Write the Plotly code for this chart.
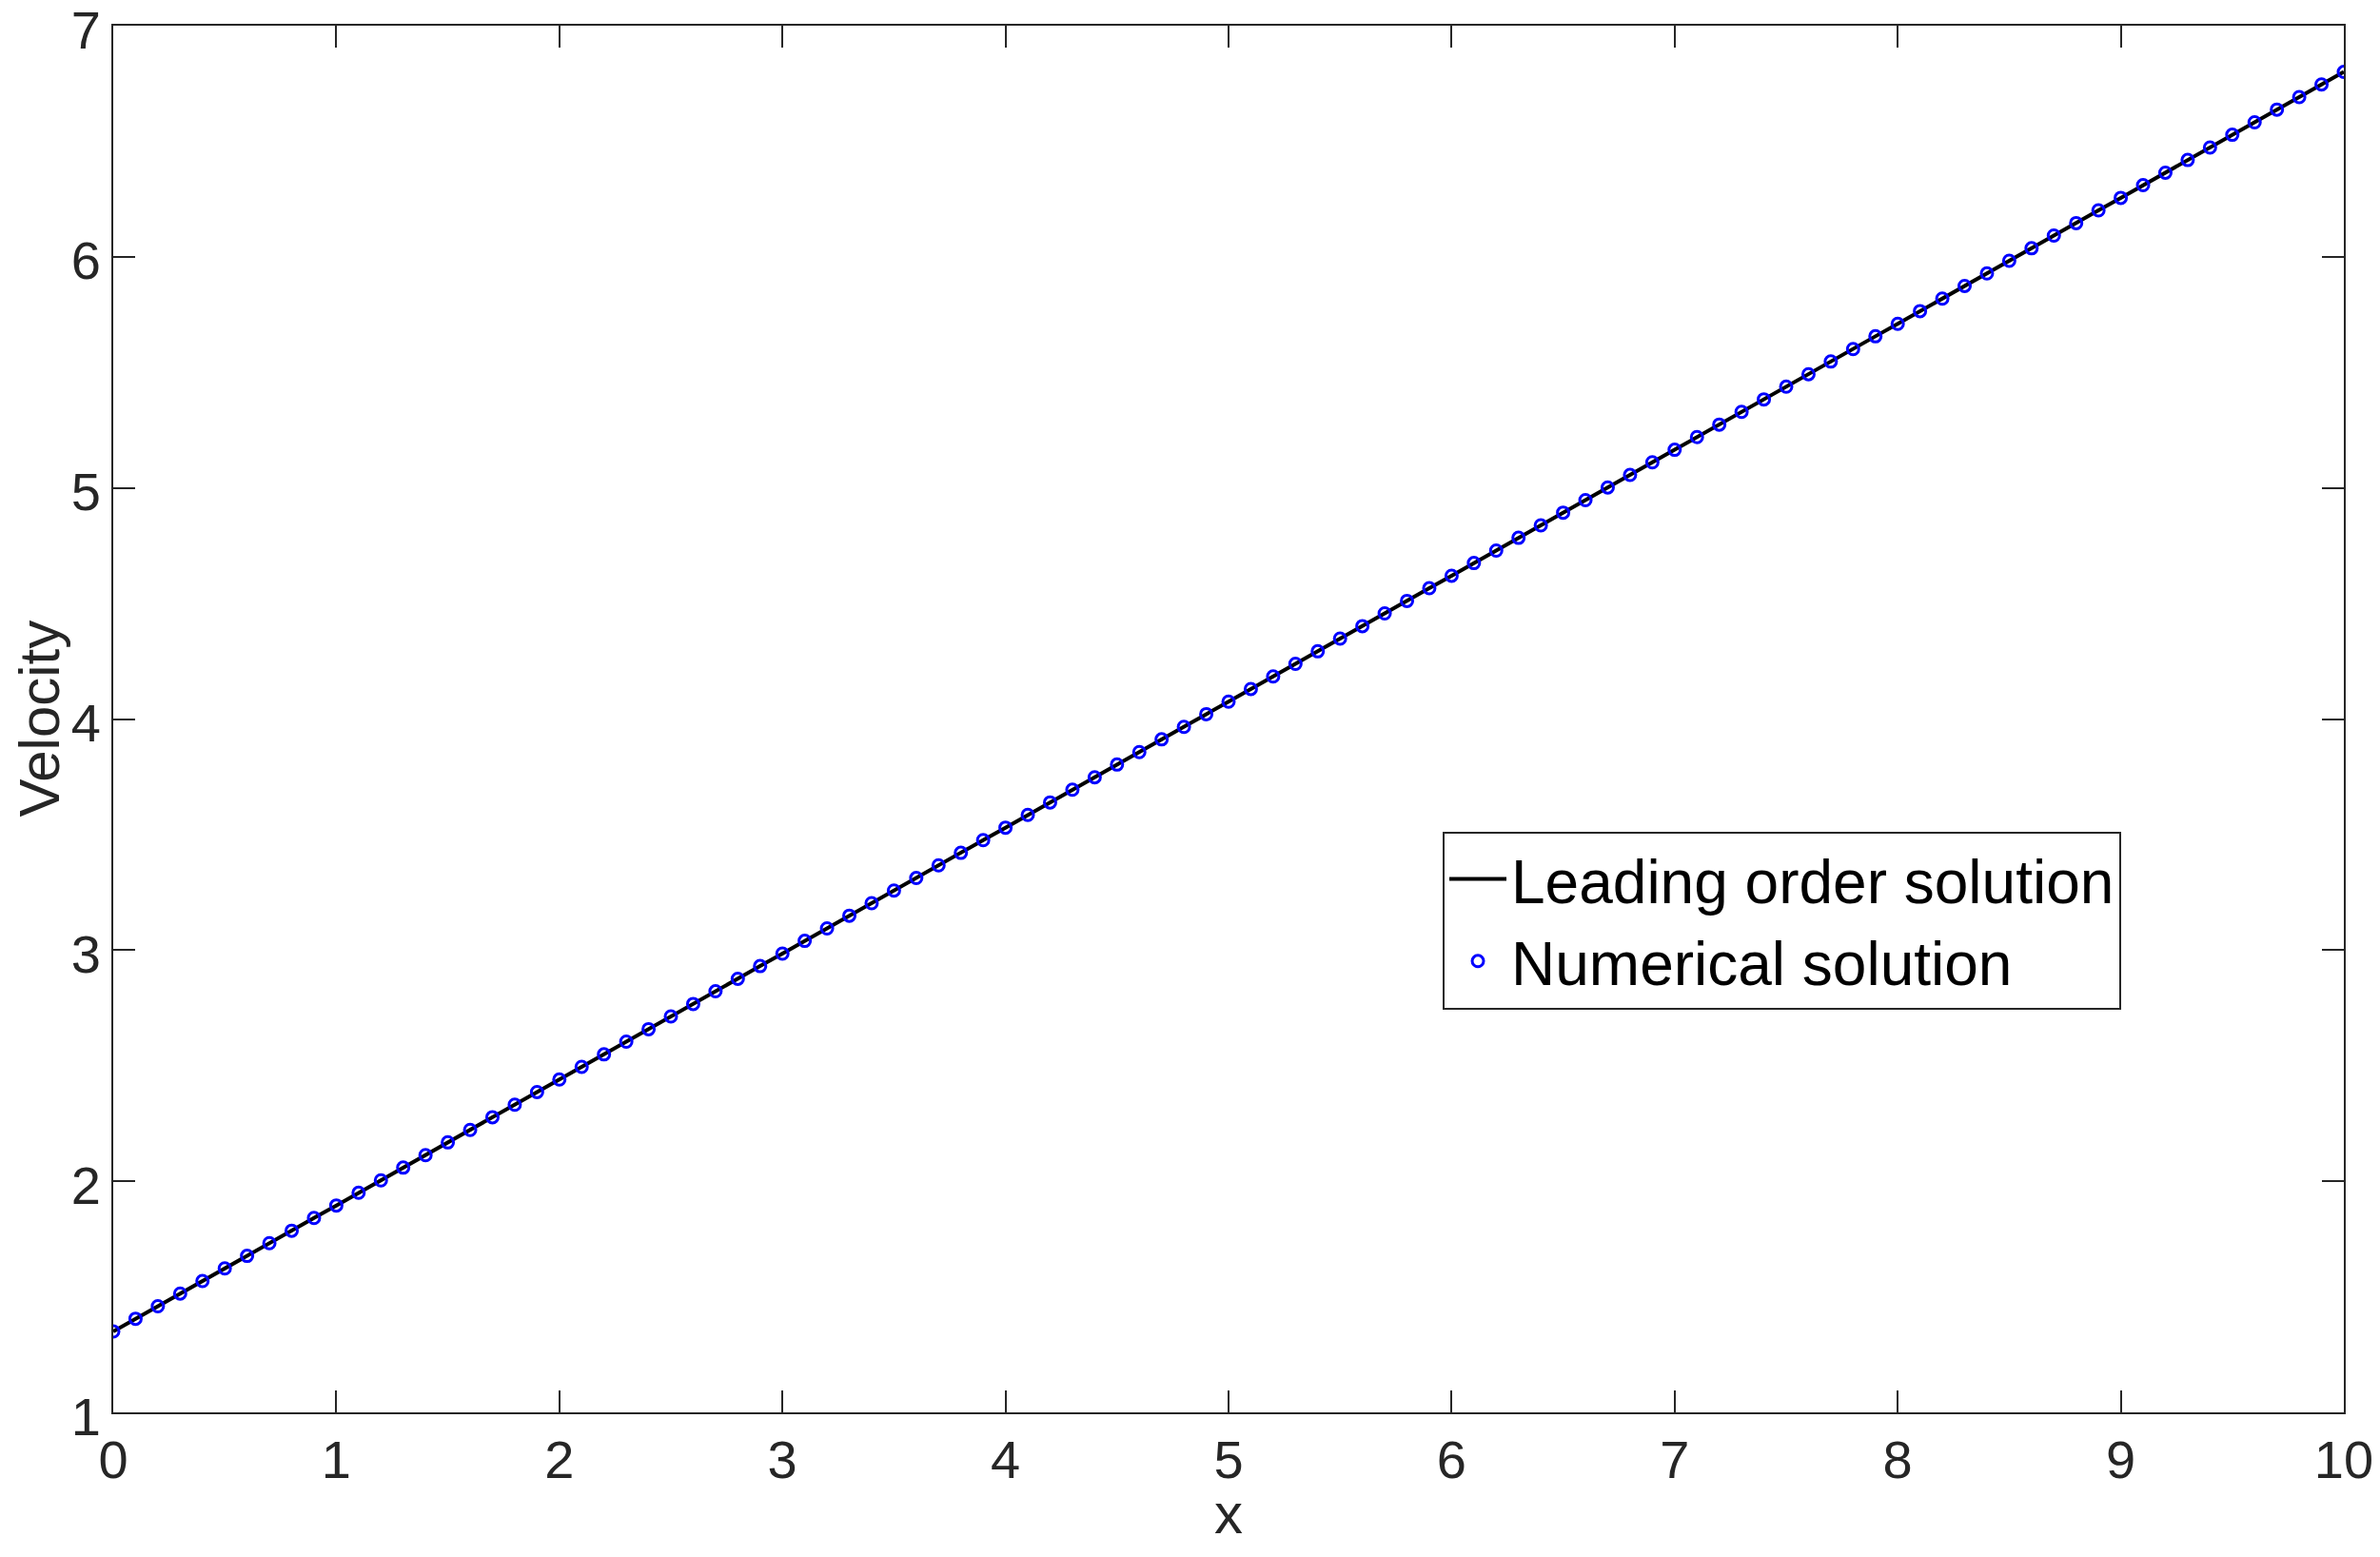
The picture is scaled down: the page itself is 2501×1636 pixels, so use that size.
import plotly.graph_objects as go

# x positions of the solution samples
x_vals = [0.0, 0.1, 0.2, 0.3, 0.4, 0.5, 0.6, 0.7, 0.8, 0.9,
          1.0, 1.1, 1.2, 1.3, 1.4, 1.5, 1.6, 1.7, 1.8, 1.9,
          2.0, 2.1, 2.2, 2.3, 2.4, 2.5, 2.6, 2.7, 2.8, 2.9,
          3.0, 3.1, 3.2, 3.3, 3.4, 3.5, 3.6, 3.7, 3.8, 3.9,
          4.0, 4.1, 4.2, 4.3, 4.4, 4.5, 4.6, 4.7, 4.8, 4.9,
          5.0, 5.1, 5.2, 5.3, 5.4, 5.5, 5.6, 5.7, 5.8, 5.9,
          6.0, 6.1, 6.2, 6.3, 6.4, 6.5, 6.6, 6.7, 6.8, 6.9,
          7.0, 7.1, 7.2, 7.3, 7.4, 7.5, 7.6, 7.7, 7.8, 7.9,
          8.0, 8.1, 8.2, 8.3, 8.4, 8.5, 8.6, 8.7, 8.8, 8.9,
          9.0, 9.1, 9.2, 9.3, 9.4, 9.5, 9.6, 9.7, 9.8, 9.9,
          10.0]

# numerical solution
numerical = [1.350, 1.405, 1.459, 1.514, 1.568, 1.623, 1.677, 1.732, 1.786, 1.841,
             1.895, 1.950, 2.004, 2.059, 2.113, 2.168, 2.222, 2.277, 2.331, 2.386,
             2.440, 2.495, 2.549, 2.604, 2.658, 2.713, 2.767, 2.822, 2.876, 2.931,
             2.985, 3.040, 3.094, 3.149, 3.203, 3.258, 3.312, 3.367, 3.421, 3.476,
             3.530, 3.585, 3.639, 3.694, 3.748, 3.803, 3.857, 3.912, 3.966, 4.021,
             4.075, 4.130, 4.184, 4.239, 4.293, 4.348, 4.402, 4.457, 4.511, 4.566,
             4.620, 4.675, 4.729, 4.784, 4.838, 4.893, 4.947, 5.002, 5.056, 5.111,
             5.165, 5.220, 5.274, 5.329, 5.383, 5.438, 5.492, 5.547, 5.601, 5.656,
             5.710, 5.765, 5.819, 5.874, 5.928, 5.983, 6.037, 6.092, 6.146, 6.201,
             6.255, 6.310, 6.364, 6.419, 6.473, 6.528, 6.582, 6.637, 6.691, 6.746,
             6.800]

# leading order solution sits right on top of the numerical one
leading_order = list(numerical)

x_ticks = [0, 1, 2, 3, 4, 5, 6, 7, 8, 9, 10]
y_ticks = [1, 2, 3, 4, 5, 6, 7]

AXIS_COLOR = '#262626'
FONT = 'Liberation Sans, Arial, Helvetica, sans-serif'

fig = go.Figure()

fig.add_trace(go.Scatter(
    x=x_vals, y=leading_order, mode='lines',
    name='Leading order solution',
    line=dict(color='black', width=4),
))
fig.add_trace(go.Scatter(
    x=x_vals, y=numerical, mode='markers',
    name='Numerical solution',
    marker=dict(symbol='circle-open', size=12, color='#0000ff', line=dict(width=3)),
))

axis_common = dict(
    showgrid=False, zeroline=False, automargin=False,
    showline=True, linecolor=AXIS_COLOR, linewidth=2, mirror='ticks',
    ticks='inside', ticklen=23, tickwidth=2, tickcolor=AXIS_COLOR,
    tickfont=dict(family=FONT, size=56, color=AXIS_COLOR),
    ticklabeloverflow='allow',
)

fig.update_xaxes(range=[0, 10], tickvals=x_ticks, **axis_common)
# nudge y labels down a little so the top "7" stays on the page
fig.update_yaxes(range=[1, 7], tickvals=y_ticks, ticklabelshift=4, **axis_common)

# axis titles as annotations so they can sit right at the figure edges
title_font = dict(family=FONT, size=60, color=AXIS_COLOR)
fig.add_annotation(
    text='Velocity', textangle=-90, showarrow=False,
    xref='paper', yref='paper', x=0, y=0.5, xshift=-78,
    xanchor='center', yanchor='middle', font=title_font,
)
fig.add_annotation(
    text='x', showarrow=False,
    xref='paper', yref='paper', x=0.5, y=0, yshift=-106,
    xanchor='center', yanchor='middle', font=title_font,
)

# page body has an 8px margin, so the figure is trimmed to fit the window
fig.update_layout(
    width=2485, height=1620,
    margin=dict(l=111, r=30, t=19, b=144),
    plot_bgcolor='white', paper_bgcolor='white',
    legend=dict(
        x=0.596, y=0.419, xanchor='left', yanchor='top',
        bgcolor='white', bordercolor=AXIS_COLOR, borderwidth=2,
        font=dict(family=FONT, size=64, color='black'),
        itemwidth=60,
    ),
)

fig.write_html('out.html')
